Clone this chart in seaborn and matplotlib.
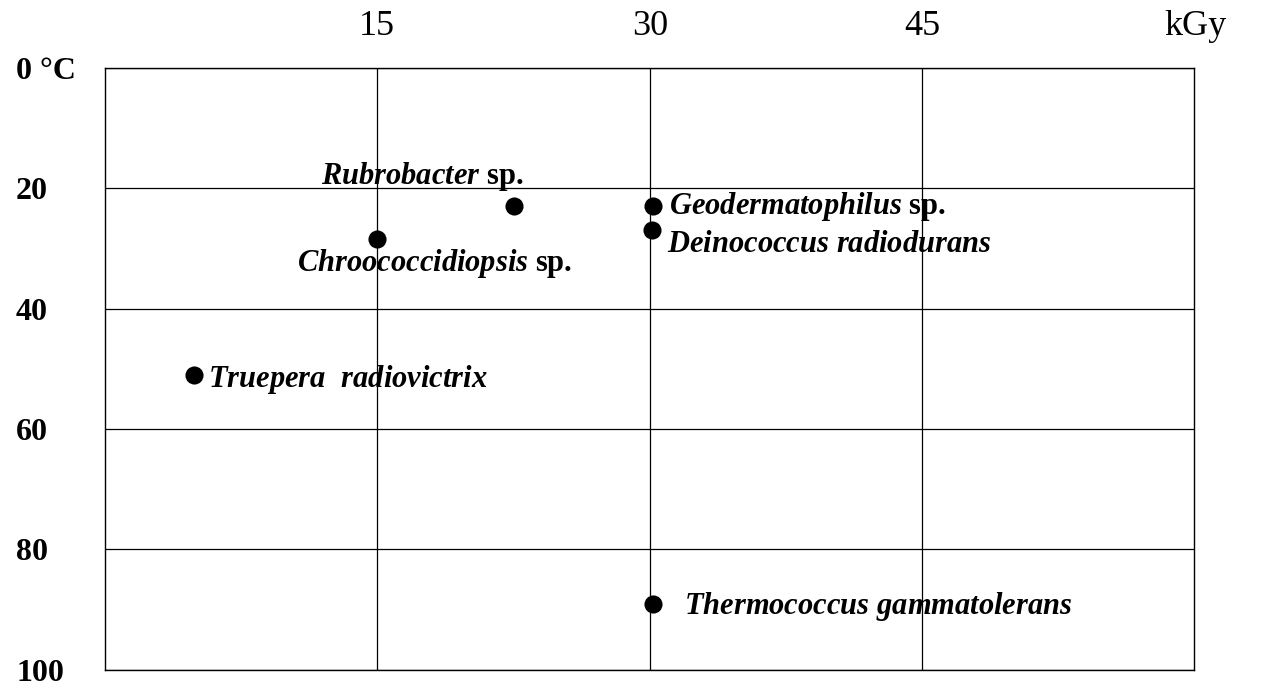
import pandas as pd
import seaborn as sns
import matplotlib.pyplot as plt

# Radiation resistance (kGy) vs optimal growth temperature (C)
species = ["$Rubrobacter$ sp.", "$Geodermatophilus$ sp.", "$Deinococcus\\ radiodurans$",
           "$Chroococcidiopsis$ sp.", "$Truepera\\ \\ radiovictrix$", "$Thermococcus\\ gammatolerans$"]
dose_kgy = [22.5, 30.2, 30.1, 15.0, 4.9, 30.2]
temp_c = [23, 23, 27, 28.5, 51, 89]

x_ticks = [15, 30, 45]
y_ticks = [0, 20, 40, 60, 80, 100]
y_tick_labels = ["0 °C", "20", "40", "60", "80", "100"]

data = pd.DataFrame({"species": species, "dose": dose_kgy, "temp": temp_c})

sns.set_style("white")
plt.rcParams["font.family"] = ["Liberation Serif", "DejaVu Serif"]
plt.rcParams["text.color"] = "black"
plt.rcParams["xtick.color"] = "black"
plt.rcParams["ytick.color"] = "black"
plt.rcParams["mathtext.fontset"] = "custom"
plt.rcParams["mathtext.it"] = "Liberation Serif:italic:bold"
plt.rcParams["mathtext.rm"] = "Liberation Serif:bold"

fig = plt.figure(figsize=(12.64, 6.92), dpi=100)
ax = fig.add_axes([0.083, 0.032, 0.862, 0.870])

sns.scatterplot(data=data, x="dose", y="temp", color="black", s=170,
                edgecolor="black", linewidth=0, ax=ax, zorder=3)

ax.set_xlim(0, 60)
ax.set_ylim(100, 0)
ax.set_xticks(x_ticks)
ax.set_yticks(y_ticks)
ax.set_yticklabels(y_tick_labels)
ax.xaxis.tick_top()
ax.set_xlabel("")
ax.set_ylabel("")
ax.grid(True, color="black", linewidth=0.9)
for sp in ax.spines.values():
    sp.set_color("black")
    sp.set_linewidth(1.0)

ax.tick_params(axis="x", length=0, pad=18, labelsize=26)
ax.tick_params(axis="y", length=0, pad=64, labelsize=23)
for lab in ax.get_yticklabels():
    lab.set_fontweight("bold")
    lab.set_horizontalalignment("left")

ax.annotate("kGy", xy=(1.0, 1.0), xycoords="axes fraction", xytext=(-22, 18),
            textcoords="offset points", fontsize=26, ha="left", va="bottom")

# label offsets (points) and alignment for each species
offsets = [(-66, 16, "center", "baseline"), (11, 0, "left", "center"),
           (11, -10, "left", "center"), (41, -17, "center", "center"),
           (10, -3, "left", "center"), (22, -2, "left", "center")]
for (name, x, y), (dx, dy, ha, va) in zip(zip(species, dose_kgy, temp_c), offsets):
    ax.annotate(name, xy=(x, y), xytext=(dx, dy), textcoords="offset points",
                fontsize=22, fontweight="bold", ha=ha, va=va, zorder=4)

plt.savefig("out.png", dpi=100)
